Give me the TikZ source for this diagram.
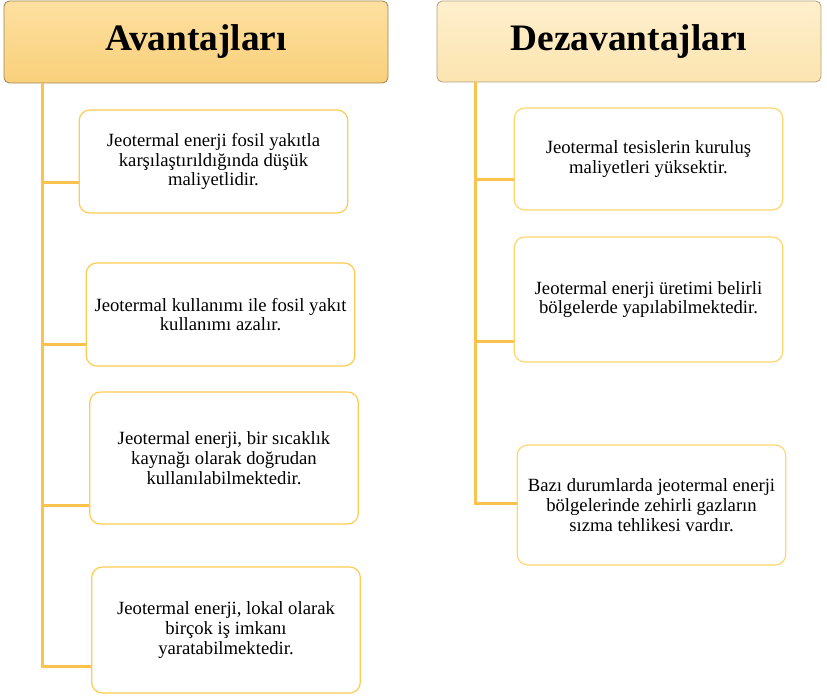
\documentclass[tikz,border=0pt]{standalone}
\usepackage{fontspec}
\setmainfont{Liberation Serif}
\usetikzlibrary{calc}
\definecolor{connC}{HTML}{FCC24E}
\definecolor{boxC}{HTML}{FFCB52}
\definecolor{boxCr}{HTML}{FFD670}
\definecolor{hdrLtop}{HTML}{FDE0A0}
\definecolor{hdrLbot}{HTML}{F9D07B}
\definecolor{hdrRtop}{HTML}{FEEFCD}
\definecolor{hdrRbot}{HTML}{FCE4B0}
\definecolor{hdrLborder}{HTML}{9E8550}
\definecolor{hdrRborder}{HTML}{B5A27A}
\begin{document}
\begin{tikzpicture}[x=0.75pt,y=-0.75pt,
  hdrbox/.style={rounded corners=4pt, font=\fontsize{28}{32}\selectfont\bfseries,
    inner sep=0pt, line width=0.6pt, minimum width=288pt},
  itembox/.style={draw=boxC, line width=0.9pt, rounded corners=8pt, fill=white,
    align=center, inner sep=0pt, minimum width=201.5pt,
    font=\fontsize{14}{14.8}\selectfont},
  itemboxr/.style={itembox, draw=boxCr},
  conn/.style={draw=connC, line width=2.3pt}]
\useasboundingbox (0,0) rectangle (827,698);

% headers
\node[hdrbox, draw=hdrLborder, top color=hdrLtop, bottom color=hdrLbot,
  minimum height=61.5pt] (hA) at (196,42) {Avantajları};
\node[hdrbox, draw=hdrRborder, top color=hdrRtop, bottom color=hdrRbot,
  minimum height=60.75pt] (hD) at (629,41.5) {Dezavantajları};

% left items
\node[itembox, minimum height=77.25pt] (b1) at (213.5,161.5)
  {Jeotermal enerji fosil yakıtla\\karşılaştırıldığında düşük\\maliyetlidir.};
\node[itembox, minimum height=77.25pt] (b2) at (220.5,314.5)
  {Jeotermal kullanımı ile fosil yakıt\\kullanımı azalır.};
\node[itembox, minimum height=99pt] (b3) at (224,458)
  {Jeotermal enerji, bir sıcaklık\\kaynağı olarak doğrudan\\kullanılabilmektedir.};
\node[itembox, minimum height=94.5pt] (b4) at (226,630)
  {Jeotermal enerji, lokal olarak\\birçok iş imkanı\\yaratabilmektedir.};

% right items
\node[itemboxr, minimum height=76.5pt] (r1) at (648.5,159)
  {Jeotermal tesislerin kuruluş\\maliyetleri yüksektir.};
\node[itemboxr, minimum height=93.75pt] (r2) at (648.5,299.5)
  {Jeotermal enerji üretimi belirli\\bölgelerde yapılabilmektedir.};
\node[itemboxr, minimum height=90pt] (r3) at (651.5,505)
  {Bazı durumlarda jeotermal enerji\\bölgelerinde zehirli gazların\\sızma tehlikesi vardır.};

% connectors
\coordinate (sA) at ($(hA.south west)+(39,0)$);
\coordinate (sD) at ($(hD.south west)+(39,0)$);
\draw[conn] (sA) |- ($(b1.south west)+(0,-31)$);
\draw[conn] (sA) |- ($(b2.south west)+(0,-22)$);
\draw[conn] (sA) |- ($(b3.south west)+(0,-19)$);
\draw[conn] (sA) |- ($(b4.south west)+(0,-27)$);
\draw[conn] (sD) |- ($(r1.south west)+(0,-31)$);
\draw[conn] (sD) |- ($(r2.south west)+(0,-21)$);
\draw[conn] (sD) |- ($(r3.south west)+(0,-62)$);
\end{tikzpicture}
\end{document}
